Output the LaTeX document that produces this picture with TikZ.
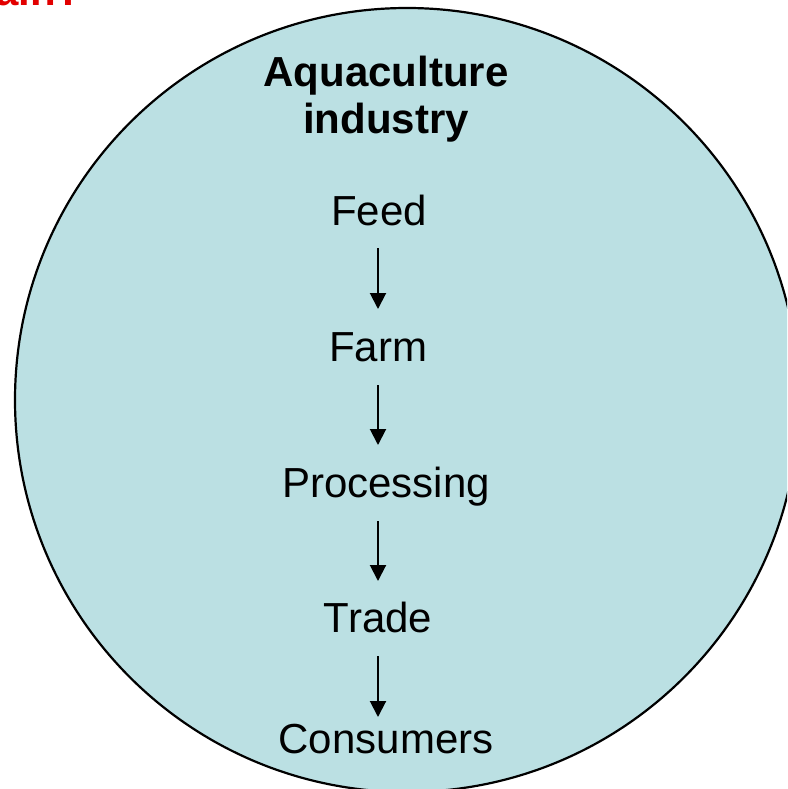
\documentclass[tikz,border=0pt]{standalone}
\usepackage{fontspec}
\setmainfont{Liberation Sans}
\usetikzlibrary{arrows.meta}
\definecolor{pool}{RGB}{187,224,227}
\definecolor{titlered}{RGB}{226,0,0}
\tikzset{
  lbl/.style={anchor=base, inner sep=0pt, font=\fontsize{42}{46}\selectfont},
  ttl/.style={anchor=base, inner sep=0pt, font=\fontsize{42}{46}\selectfont\bfseries},
  arr/.style={line width=2pt, -{Triangle[width=16pt,length=16pt]}}
}
\begin{document}
\begin{tikzpicture}[x=1pt,y=-1pt]
\useasboundingbox (0,0) rectangle (787,789);
\clip (0,0) rectangle (787,789);
\node[anchor=base east, inner sep=0pt, text=titlered, font=\fontsize{42}{46}\selectfont\bfseries] (head) at (82,6) {chain?};
\draw[line width=2.2pt, fill=pool] (407,400) circle (392);
\node[ttl] (t1) at (386,87) {Aquaculture};
\node[ttl] (t2) at (386,133) {industry};
\node[lbl] (feed) at (379,225) {Feed};
\node[lbl] (farm) at (378,361) {Farm};
\node[lbl] (proc) at (386,497) {Processing};
\node[lbl] (trade) at (378,632) {Trade};
\node[lbl] (cons) at (386,753) {Consumers};
\coordinate (a1s) at (378,248); \coordinate (a1e) at (378,309);
\coordinate (a2s) at (378,385); \coordinate (a2e) at (378,445);
\coordinate (a3s) at (378,521); \coordinate (a3e) at (378,581);
\coordinate (a4s) at (378,656); \coordinate (a4e) at (378,717);
\draw[arr] (a1s) -- (a1e);
\draw[arr] (a2s) -- (a2e);
\draw[arr] (a3s) -- (a3e);
\draw[arr] (a4s) -- (a4e);
\end{tikzpicture}
\end{document}
